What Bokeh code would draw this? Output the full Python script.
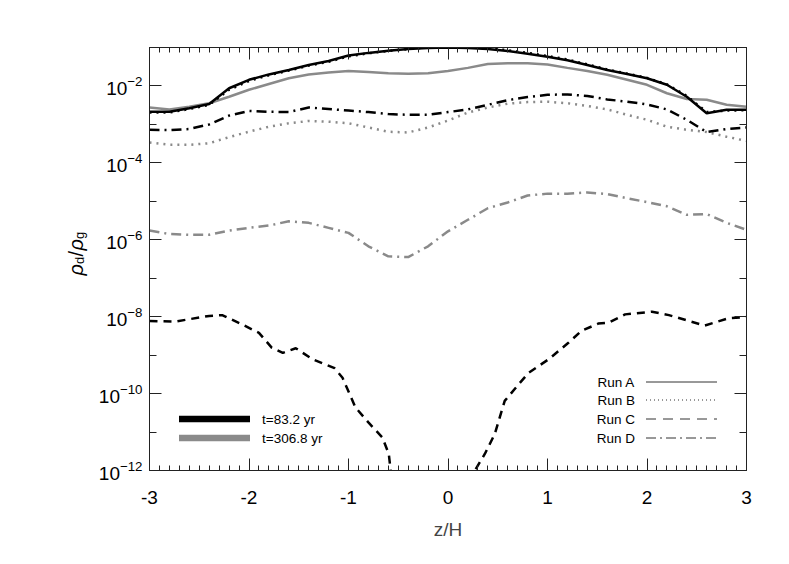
import math
from bokeh.plotting import figure
from bokeh.layouts import row
from bokeh.models import (FixedTicker, SingleIntervalTicker, LinearAxis, LogAxis, Label, Plot,
                          Arrow, LogTickFormatter, CustomJSTickFormatter, Range1d)
from bokeh.embed import file_html
from bokeh.resources import INLINE

# ---------------- data (log10 of rho_d/rho_g) ----------------
z = [-3.0, -2.8, -2.6, -2.4, -2.2, -2.0, -1.8, -1.6, -1.4, -1.2, -1.0, -0.8, -0.6, -0.4, -0.2,
     0.0, 0.2, 0.4, 0.6, 0.8, 1.0, 1.2, 1.4, 1.6, 1.8, 2.0, 2.2, 2.4, 2.6, 2.8, 3.0]

run_a_t83 = [-2.67, -2.67, -2.58, -2.47, -2.06, -1.84, -1.70, -1.585, -1.455, -1.35, -1.21, -1.14,
             -1.085, -1.04, -1.01, -1.0, -1.01, -1.04, -1.09, -1.16, -1.24, -1.33, -1.455, -1.585,
             -1.69, -1.80, -1.97, -2.28, -2.71, -2.62, -2.62]
run_b_t83 = [-2.69, -2.69, -2.60, -2.49, -2.10, -1.87, -1.72, -1.60, -1.47, -1.37, -1.23, -1.15,
             -1.09, -1.04, -1.0, -0.99, -0.99, -1.02, -1.07, -1.14, -1.22, -1.31, -1.44, -1.57,
             -1.68, -1.79, -1.96, -2.26, -2.68, -2.64, -2.63]
run_d_t83 = [-3.14, -3.15, -3.12, -3.00, -2.77, -2.65, -2.67, -2.68, -2.56, -2.60, -2.64, -2.68,
             -2.73, -2.75, -2.75, -2.68, -2.61, -2.49, -2.37, -2.29, -2.23, -2.22, -2.26, -2.35,
             -2.41, -2.48, -2.61, -2.88, -3.20, -3.12, -3.08]

run_a_t307 = [-2.56, -2.61, -2.54, -2.45, -2.28, -2.10, -1.95, -1.80, -1.70, -1.65, -1.61, -1.64,
              -1.67, -1.68, -1.67, -1.61, -1.53, -1.43, -1.41, -1.41, -1.44, -1.53, -1.61, -1.71,
              -1.84, -1.97, -2.19, -2.34, -2.36, -2.49, -2.54]
run_b_t307 = [-3.47, -3.53, -3.53, -3.49, -3.33, -3.19, -3.06, -2.97, -2.91, -2.93, -2.97, -3.08,
              -3.19, -3.21, -3.08, -2.90, -2.69, -2.56, -2.46, -2.42, -2.41, -2.45, -2.52, -2.61,
              -2.75, -2.88, -3.06, -3.14, -3.20, -3.32, -3.43]
run_d_t307 = [-5.76, -5.85, -5.87, -5.87, -5.76, -5.69, -5.63, -5.52, -5.56, -5.69, -5.82, -6.17,
              -6.43, -6.45, -6.17, -5.78, -5.48, -5.18, -5.03, -4.85, -4.80, -4.80, -4.77, -4.81,
              -4.92, -5.02, -5.13, -5.35, -5.33, -5.56, -5.74]

z_c = [-3.0, -2.75, -2.4, -2.27, -2.07, -1.9, -1.77, -1.66, -1.53, -1.36, -1.14, -1.06, -0.93,
       -0.80, -0.66, -0.595, -0.58, -0.55, 0.22, 0.27, 0.37, 0.47, 0.57, 0.71, 0.81, 1.01, 1.21,
       1.34, 1.51, 1.61, 1.78, 2.05, 2.22, 2.58, 2.82, 3.0]
run_c_t83 = [-8.11, -8.13, -7.98, -7.96, -8.20, -8.42, -8.81, -8.94, -8.82, -9.11, -9.34, -9.59,
             -10.36, -10.75, -11.14, -11.57, -11.92, -12.6, -12.6, -12.0, -11.57, -11.05, -10.19,
             -9.76, -9.46, -9.11, -8.68, -8.37, -8.18, -8.16, -7.94, -7.87, -7.96, -8.23, -8.04,
             -8.01]

y_major_exp = [-12, -10, -8, -6, -4, -2]
y_minor_exp = [-11, -9, -7, -5, -3, -1]

time_labels = ["t=83.2 yr", "t=306.8 yr"]
run_labels = ["Run A", "Run B", "Run C", "Run D"]

# ---------------- styles ----------------
FONT = "Liberation Sans"
BLACK = "#000000"
GRAY = "#8a8a8a"
LW = 2.5
dashes = {"A": "solid", "B": "2 5", "C": "8 6", "D": "10 5 2 5"}

FIG_H = 545
LAB_W = 95
FRAME_LEFT = 148


def pw(vals):
    return [10.0 ** v for v in vals]


p = figure(frame_width=597, frame_height=423,
           x_range=Range1d(-3, 3), y_range=Range1d(1e-12, 1e-1),
           y_axis_type="log", output_backend="svg", toolbar_location=None,
           min_border_left=FRAME_LEFT - LAB_W, min_border_right=20, min_border_top=47,
           min_border_bottom=FIG_H - 47 - 423,
           background_fill_color="white", border_fill_color="white")
p.grid.visible = False
p.outline_line_color = "#222222"
p.outline_line_width = 1

# curves: t = 306.8 yr (gray) first, then t = 83.2 yr (black)
p.line(z, pw(run_d_t307), line_color=GRAY, line_width=LW, line_dash=dashes["D"])
p.line(z, pw(run_b_t307), line_color=GRAY, line_width=LW, line_dash=dashes["B"])
p.line(z, pw(run_a_t307), line_color=GRAY, line_width=LW, line_dash=dashes["A"])
p.line(z_c, pw(run_c_t83), line_color=BLACK, line_width=LW, line_dash=dashes["C"])
p.line(z, pw(run_d_t83), line_color=BLACK, line_width=LW, line_dash=dashes["D"])
p.line(z, pw(run_a_t83), line_color=BLACK, line_width=LW, line_dash=dashes["A"])
p.line(z, pw(run_b_t83), line_color=BLACK, line_width=LW, line_dash=dashes["B"])

# ---------------- axes ----------------
def style_axis(ax, minor_len):
    ax.major_tick_in = 12
    ax.major_tick_out = 0
    ax.minor_tick_in = minor_len
    ax.minor_tick_out = 0
    ax.axis_line_color = "#222222"
    ax.major_tick_line_color = "#222222"
    ax.minor_tick_line_color = "#222222"
    ax.major_label_text_font = FONT
    ax.major_label_text_color = "black"


xt = SingleIntervalTicker(interval=1, num_minor_ticks=10)
yt = FixedTicker(ticks=[10.0 ** e for e in y_major_exp], minor_ticks=[10.0 ** e for e in y_minor_exp])

xa = p.xaxis[0]
xa.ticker = xt
xa.formatter = CustomJSTickFormatter(code="return tick.toFixed(0)")
style_axis(xa, 5)
xa.major_label_text_font_size = "19px"
xa.major_label_standoff = 20
xa.axis_label = "z/H"
xa.axis_label_text_font = FONT
xa.axis_label_text_font_size = "19px"
xa.axis_label_text_font_style = "normal"
xa.axis_label_standoff = 12

ya = p.yaxis[0]
ya.ticker = yt
ya.formatter = LogTickFormatter()
style_axis(ya, 7)
ya.major_label_text_font_size = "19px"
ya.major_label_standoff = 7

empty = CustomJSTickFormatter(code="return ''")
top = LinearAxis(ticker=xt, formatter=empty)
style_axis(top, 5)
p.add_layout(top, "above")
right = LogAxis(ticker=yt, formatter=empty)
style_axis(right, 7)
p.add_layout(right, "right")

# ---------------- legends ----------------
LEG_FS = "13.5px"
time_rows = [(51.5, BLACK), (32.5, GRAY)]
for (yy, col), lab in zip(time_rows, time_labels):
    p.add_layout(Arrow(start=None, end=None, x_start=29.5, y_start=yy, x_end=100.5, y_end=yy,
                       start_units="screen", end_units="screen", line_color=col, line_width=6.5))
    p.add_layout(Label(x=112.5, y=yy, x_units="screen", y_units="screen", text=lab,
                       text_align="left", text_baseline="middle", text_font=FONT,
                       text_font_size=LEG_FS, text_color="black"))

run_rows = [88.5, 70.5, 51.5, 32.5]
run_dash = ["solid", "1 3", "10 7", "10 4 2 4"]
for yy, lab, dsh in zip(run_rows, run_labels, run_dash):
    p.add_layout(Label(x=485.5, y=yy, x_units="screen", y_units="screen", text=lab,
                       text_align="right", text_baseline="middle", text_font=FONT,
                       text_font_size=LEG_FS, text_color="black"))
    p.add_layout(Arrow(start=None, end=None, x_start=496.5, y_start=yy, x_end=567.5, y_end=yy,
                       start_units="screen", end_units="screen", line_color="#333333",
                       line_width=1, line_dash=dsh))

# ---------------- y axis label  rho_d / rho_g (rotated), in a narrow side plot ----------------
lf = Plot(frame_width=LAB_W, frame_height=FIG_H, x_range=Range1d(0, LAB_W),
          y_range=Range1d(0, FIG_H), output_backend="svg", toolbar_location=None,
          min_border=0, title=None,
          outline_line_color=None, background_fill_color="white", border_fill_color="white")

base_x = 75
sub_dx = 4
y0 = FIG_H - 279 + 51
pieces = [("\u03c1", "20px", "italic", 0, 0.0), ("d", "13px", "normal", sub_dx, 11.5),
          ("/", "20px", "normal", 0, 19.0), ("\u03c1", "20px", "italic", 0, 25.0),
          ("g", "13px", "normal", sub_dx, 36.5)]
for txt, fs, st, dx, dy in pieces:
    lf.add_layout(Label(x=base_x + dx, y=y0 + dy, x_units="data", y_units="data",
                        text=txt, angle=math.pi / 2,
                        text_align="left", text_baseline="alphabetic", text_font=FONT,
                        text_font_size=fs, text_font_style=st, text_color="black"))

open("out.html", "w").write(file_html(row(lf, p), INLINE))
